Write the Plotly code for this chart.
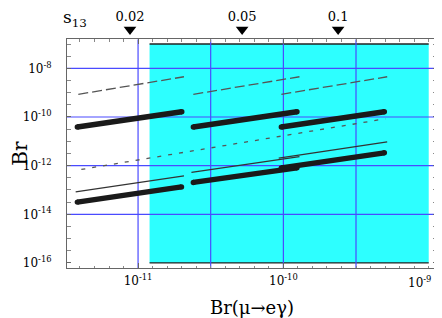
import plotly.graph_objects as go

FONT = "DejaVu Serif"

# ---------------- data ----------------
# s13 markers on top edge
s13_labels = ["0.02", "0.05", "0.1"]
s13_x = [8.8e-12, 5.2e-11, 2.38e-10]

# thick upper curves (three s13 values)
thick_top_x0 = [3.82e-12, 2.40e-11, 9.68e-11]
thick_top_x1 = [2.00e-11, 1.24e-10, 4.95e-10]
thick_top_y0 = [3.87e-11, 3.87e-11, 3.87e-11]
thick_top_y1 = [1.64e-10, 1.64e-10, 1.64e-10]

# long-dashed curves
long_dash_x0 = [3.88e-12, 2.40e-11, 9.68e-11]
long_dash_x1 = [2.07e-11, 1.29e-10, 5.18e-10]
long_dash_y0 = [8.51e-10, 8.51e-10, 8.51e-10]
long_dash_y1 = [4.51e-9, 4.51e-9, 4.51e-9]

# short-dashed curve
short_dash_x = [4.07e-12, 5.03e-10]
short_dash_y = [6.98e-13, 8.43e-11]

# thin solid curves
thin_x0 = [3.72e-12, 2.33e-11, 9.29e-11]
thin_x1 = [2.07e-11, 1.29e-10, 5.18e-10]
thin_y0 = [8.36e-14, 5.25e-13, 2.04e-12]
thin_y1 = [3.80e-13, 2.34e-12, 9.53e-12]

# thick lower curves
thick_bot_x0 = [3.82e-12, 2.40e-11, 9.68e-11]
thick_bot_x1 = [1.99e-11, 1.24e-10, 4.95e-10]
thick_bot_y0 = [3.18e-14, 2.04e-13, 8.1e-13]
thick_bot_y1 = [1.34e-13, 8.1e-13, 3.37e-12]

# cyan allowed region
box_x = [1.2e-11, 1e-9]
box_y = [1e-16, 1e-7]

# blue reference lines
grid_x = [1e-11, 3.16e-11, 1e-10, 3.16e-10]
grid_y = [1e-8, 1e-10, 1e-12, 1e-14]

# axis ranges (log10)
x_range = [-11.489, -8.943]
y_range = [-16.207, -6.807]

x_tick_exp = [-11, -10]
x_edge_label_exp = -9          # last label, nudged left to stay inside the page
y_tick_exp = [-16, -14, -12, -10, -8]
# ----------------------------------------------------------------


def segs(x0, x1, y0, y1):
    xs, ys = [], []
    for a, b, c, d in zip(x0, x1, y0, y1):
        xs += [a, b, None]
        ys += [c, d, None]
    return xs, ys


fig = go.Figure()

# cyan box
fig.add_trace(go.Scatter(
    x=[box_x[0], box_x[1], box_x[1], box_x[0], box_x[0]],
    y=[box_y[0], box_y[0], box_y[1], box_y[1], box_y[0]],
    fill="toself", fillcolor="#2dffff", mode="none", hoverinfo="skip",
    showlegend=False))
# black edges of box (top and bottom)
fig.add_trace(go.Scatter(
    x=[box_x[0], box_x[1], None, box_x[0], box_x[1]],
    y=[box_y[1], box_y[1], None, box_y[0], box_y[0]],
    mode="lines", line=dict(color="#222222", width=1.3),
    showlegend=False, hoverinfo="skip"))

# blue grid lines
ylo, yhi = 10 ** y_range[0], 10 ** y_range[1]
xlo, xhi = 10 ** x_range[0], 10 ** x_range[1]
gx, gy = [], []
for v in grid_x:
    gx += [v, v, None]
    gy += [ylo, yhi, None]
for v in grid_y:
    gx += [xlo, xhi, None]
    gy += [v, v, None]
fig.add_trace(go.Scatter(x=gx, y=gy, mode="lines",
                         line=dict(color="#4a4aff", width=1.2),
                         showlegend=False, hoverinfo="skip"))

# curves
x, y = segs(long_dash_x0, long_dash_x1, long_dash_y0, long_dash_y1)
fig.add_trace(go.Scatter(x=x, y=y, mode="lines",
                         line=dict(color="#555555", width=1.3, dash="10px,4px"),
                         showlegend=False))
fig.add_trace(go.Scatter(x=short_dash_x, y=short_dash_y, mode="lines",
                         line=dict(color="#555555", width=1.3, dash="4px,7px"),
                         showlegend=False))
x, y = segs(thin_x0, thin_x1, thin_y0, thin_y1)
fig.add_trace(go.Scatter(x=x, y=y, mode="lines",
                         line=dict(color="#333333", width=1.2),
                         showlegend=False))
for X0, X1, Y0, Y1 in [(thick_top_x0, thick_top_x1, thick_top_y0, thick_top_y1),
                       (thick_bot_x0, thick_bot_x1, thick_bot_y0, thick_bot_y1)]:
    x, y = segs(X0, X1, Y0, Y1)
    fig.add_trace(go.Scatter(x=x, y=y, mode="lines+markers",
                             line=dict(color="#1a1a1a", width=5.4),
                             marker=dict(color="#1a1a1a", size=5.4, line=dict(width=0)),
                             showlegend=False))

# s13 markers on a strip above the frame (yaxis2)
fig.add_trace(go.Scatter(
    x=s13_x, y=[0.31] * len(s13_x), mode="markers", yaxis="y2",
    marker=dict(symbol="triangle-down", size=11, color="black"),
    showlegend=False, hoverinfo="skip"))
fig.add_trace(go.Scatter(
    x=s13_x, y=[0.68] * len(s13_x), mode="text", yaxis="y2",
    text=s13_labels, textposition="middle center",
    textfont=dict(family=FONT, size=13, color="black"),
    showlegend=False, hoverinfo="skip"))

# page body adds an 8px offset, so the figure is 8px smaller than the window
W, H = 434, 310
L, R, T, B = 59, 5, 0, 50
plot_top_px = 31.3
main_top = (H - B - plot_top_px) / (H - B - T)

fig.add_annotation(text="s<sub>13</sub>", xref="paper", yref="paper",
                   x=0.022, y=(H - B - 11) / (H - B - T), showarrow=False,
                   xanchor="center", yanchor="middle",
                   font=dict(family=FONT, size=17, color="black"))

# last x tick label (kept inside the page like in the reference)
fig.add_annotation(text=f"10<sup>{x_edge_label_exp}</sup>", xref="x", yref="paper",
                   x=x_edge_label_exp, y=0, yshift=-4, xshift=-9,
                   xanchor="center", yanchor="top", showarrow=False,
                   font=dict(family=FONT, size=12, color="black"))

# minor tick positions
x_minor = [10 ** (k / 10) for k in range(-114, -89) if k % 10 != 0 or k == -90]
y_minor = [10 ** (k / 2) for k in range(-32, -13) if k % 4 != 0]

fig.update_xaxes(
    type="log", range=x_range, automargin=False,
    tickvals=[10 ** e for e in x_tick_exp],
    ticktext=[f"10<sup>{e}</sup>" for e in x_tick_exp],
    ticks="inside", ticklen=5, tickcolor="#666", tickwidth=1,
    minor=dict(tickvals=x_minor, ticks="inside", ticklen=2.5, tickcolor="#888"),
    showline=True, linecolor="#666", linewidth=1, mirror="ticks",
    showgrid=False, zeroline=False, ticklabelstandoff=2,
    tickfont=dict(family=FONT, size=12, color="black"),
    title=dict(text="Br(μ→eγ)", font=dict(family=FONT, size=18, color="black"),
               standoff=14),
)

fig.update_layout(
    width=W, height=H,
    margin=dict(l=L, r=R, t=T, b=B),
    paper_bgcolor="white", plot_bgcolor="white",
    showlegend=False,
    yaxis=dict(
        type="log", range=y_range, automargin=False, domain=[0, main_top],
        tickvals=[10 ** e for e in y_tick_exp],
        ticktext=[f"10<sup>{e}</sup>" for e in y_tick_exp],
        ticks="inside", ticklen=4, tickcolor="#666", tickwidth=1,
        minor=dict(tickvals=y_minor, ticks="inside", ticklen=4, tickcolor="#888"),
        showline=True, linecolor="#666", linewidth=1, mirror="ticks",
        showgrid=False, zeroline=False, ticklabelstandoff=12,
        tickfont=dict(family=FONT, size=12, color="black"),
        title=dict(text="Br", font=dict(family=FONT, size=20, color="black"),
                   standoff=16),
    ),
    yaxis2=dict(
        domain=[main_top, 1], range=[0, 1], anchor="x",
        visible=False, fixedrange=True,
    ),
)

fig.write_html("out.html")
